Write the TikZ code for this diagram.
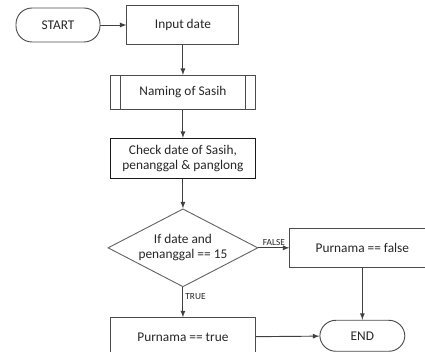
\documentclass[tikz,border=0pt]{standalone}
\usepackage{fontspec}
\setmainfont{Carlito}
\usetikzlibrary{positioning, shapes.geometric, arrows}

\begin{document}
\begin{tikzpicture}[
    node distance=21pt,
    every node/.style={font=\fontsize{10}{11.5}\selectfont, text=black!85},
    terminal/.style={draw=black!70, line width=0.7pt, rectangle, rounded corners=12pt, minimum width=63pt, minimum height=25.5pt},
    process/.style={draw=black!70, line width=0.7pt, rectangle, minimum width=108.75pt, minimum height=29.25pt, align=center},
    subproc/.style={process, minimum height=25.5pt},
    decision/.style={draw=black!60, line width=0.7pt, diamond, minimum width=112.5pt, minimum height=58.5pt, inner sep=0pt},
    tag/.style={font=\fontsize{7}{8}\selectfont, inner sep=1.5pt},
    arrow/.style={-latex, line width=0.7pt, draw=black!75}
]
\useasboundingbox (0,0) rectangle (318.75pt,-263.25pt);
\clip (0,0) rectangle (318.75pt,-263.25pt);

\node[terminal] (start) at (43.5pt,-18.75pt) {START};
\node[process, right=19.5pt of start, minimum width=84pt] (input) {Input date};
\node[subproc, below=22.5pt of input] (naming) {Naming of Sasih};
\node[process, line width=1.1pt, draw=black!90, minimum height=30pt, below=of naming] (check) {Check date of Sasih,\\penanggal \& panglong};
\node[decision, below=21.75pt of check, label={[align=center]center:If date and\\penanggal == 15}] (dec) {};
\node[process, right=23.25pt of dec] (pfalse) {Purnama == false};
\node[process, below=22.5pt of dec] (ptrue) {Purnama == true};
\node[terminal, minimum width=63.75pt, minimum height=23.25pt, below=39pt of pfalse] (end) {END};

\draw[draw=black!70, line width=0.7pt] ([xshift=7.5pt]naming.north west) -- ([xshift=7.5pt]naming.south west);
\draw[draw=black!70, line width=0.7pt] ([xshift=-7.5pt]naming.north east) -- ([xshift=-7.5pt]naming.south east);

\draw[arrow] (start) -- (input);
\draw[arrow] (input) -- (naming);
\draw[arrow] (naming) -- (check);
\draw[arrow] (check) -- (dec);
\draw[arrow] (dec) -- node[tag, above]{FALSE} (pfalse);
\draw[arrow] (dec) -- node[tag, right, pos=0.3]{TRUE} (ptrue);
\draw[arrow] (ptrue) -- (end);
\draw[arrow] (pfalse) -- (end);
\end{tikzpicture}
\end{document}
